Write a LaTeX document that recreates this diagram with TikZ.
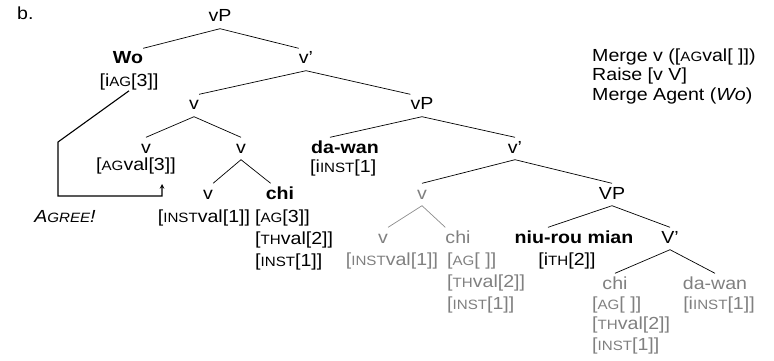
\documentclass[tikz,border=0pt]{standalone}
\usepackage{fontspec}
\setmainfont{Liberation Sans}[FakeStretch=1.12]
\usepackage{tikz}
\usetikzlibrary{arrows}
\newcommand{\smcap}[1]{{\fontsize{13.5}{13.5}\selectfont #1}}
\newcommand{\treefont}{\fontsize{17.5}{22}\selectfont}
\tikzstyle{cat} = [anchor=base, inner xsep=0pt, inner ysep=3pt,
    text height=12.5pt, text depth=3.5pt, font=\treefont]
\tikzstyle{lex} = [cat, font=\treefont\bfseries]
\tikzstyle{feat} = [anchor=base, inner sep=0pt, font=\treefont]
\tikzstyle{stack} = [anchor=north west, inner sep=0pt, align=left, font=\treefont]
\tikzstyle{ghost} = [text=black!50]
\tikzstyle{branch} = [line width=0.7pt]
\tikzstyle{gbranch} = [branch, draw=black!45]
\tikzstyle{agree} = [line width=1.1pt, ->, >=stealth]

\begin{document}
\begin{tikzpicture}[x=1pt, y=-1pt]
    \useasboundingbox (0,0) rectangle (774,361);
    \node (label) [feat, anchor=base west] at (17,20) {b.};

    % upper shell
    \node (root) [cat] at (220,22) {vP};
    \node (wo) [lex] at (128,64) {Wo};
    \node (wofeat) [feat] at (129,87) {[i\smcap{AG}[3]]};
    \node (vbar) [cat] at (306,64) {v’};
    \node (vhead) [cat] at (194,110) {v};
    \node (vpinner) [cat] at (422,110) {vP};
    \node (vagr) [cat] at (146,153) {v};
    \node (vagrfeat) [feat] at (136,170) {[\smcap{AG}val[3]]};
    \node (vcomp) [cat] at (241,153) {v};
    \node (vlittle) [cat] at (208,199) {v};
    \node (vlittlefeat) [feat] at (204,222) {[\smcap{INST}val[1]]};
    \node (chi) [lex] at (280,199) {chi};
    \node (chifeat) [stack] at (255,209.5) {[\smcap{AG}[3]]\\{}[\smcap{TH}val[2]]\\{}[\smcap{INST}[1]]};
    \node (agreelbl) [feat, font=\treefont\itshape] at (65,222) {A\smcap{GREE}!};

    % lower shell
    \node (dawan) [lex] at (345,153) {da-wan};
    \node (dawanfeat) [feat, anchor=base west] at (310,172) {[i\smcap{INST}[1]};
    \node (vbarlow) [cat] at (515,153) {v’};
    \node (vcopy) [cat, ghost] at (422,199) {v};
    \node (VP) [cat] at (612,199) {VP};
    \node (vcopyv) [cat, ghost] at (383,243) {v};
    \node (vcopyvfeat) [feat, ghost] at (392,265) {[\smcap{INST}val[1]]};
    \node (vcopychi) [cat, ghost] at (458,243) {chi};
    \node (vcopychifeat) [stack, ghost] at (447,252.5) {[\smcap{AG}[ ]]\\{}[\smcap{TH}val[2]]\\{}[\smcap{INST}[1]]};
    \node (niurou) [lex] at (574,243) {niu-rou mian};
    \node (niuroufeat) [feat] at (567,265) {[i\smcap{TH}[2]]};
    \node (Vbar) [cat] at (670,243) {V’};
    \node (chilow) [cat, ghost] at (615,289) {chi};
    \node (chilowfeat) [stack, ghost, font=\fontsize{17.5}{20.5}\selectfont] at (592,296.5) {[\smcap{AG}[ ]]\\{}[\smcap{TH}val[2]]\\{}[\smcap{INST}[1]]};
    \node (dawanlow) [cat, ghost] at (715,289) {da-wan};
    \node (dawanlowfeat) [feat, ghost] at (719,309) {[i\smcap{INST}[1]]};

    % derivation steps
    \node (steps) [stack, font=\fontsize{17.5}{19.5}\selectfont] at (592,48.5)
        {Merge v ([\smcap{AG}val[ ]])\\Raise [v V]\\Merge Agent (\textit{Wo})};

    \draw [branch] (root.south) -- (wo.north east);
    \draw [branch] (root.south) -- (vbar.north west);
    \draw [branch] (vbar.south) -- (vhead.north east);
    \draw [branch] (vbar.south) -- (vpinner.north west);
    \draw [branch] (vhead.south) -- (vagr.north);
    \draw [branch] (vhead.south) -- (vcomp.north);
    \draw [branch] (vcomp.south) -- (vlittle.north east);
    \draw [branch] (vcomp.south) -- ([xshift=5pt]chi.north west);
    \draw [branch] (vpinner.south) -- ([xshift=-15pt]dawan.north);
    \draw [branch] (vpinner.south) -- (vbarlow.north);
    \draw [branch] (vbarlow.south) -- (vcopy.north);
    \draw [branch] (vbarlow.south) -- (VP.north);
    \draw [gbranch] (vcopy.south) -- (vcopyv.north east);
    \draw [gbranch] (vcopy.south) -- (vcopychi.north west);
    \draw [branch] (VP.south) -- ([xshift=-26pt]niurou.north);
    \draw [branch] (VP.south) -- (Vbar.north);
    \draw [branch] (Vbar.south) -- (chilow.north);
    \draw [branch] (Vbar.south) -- (dawanlow.north);

    % agree relation
    \coordinate (bend) at (58,142);
    \coordinate (corner) at (58,196);
    \coordinate (goal) at (162,184);
    \draw [agree] (wofeat.south) -- (bend) -- (corner) -| (goal);
\end{tikzpicture}
\end{document}
